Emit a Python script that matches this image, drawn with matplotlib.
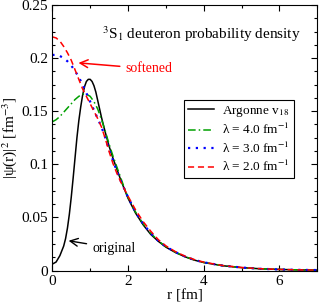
import matplotlib
matplotlib.use("Agg")
import matplotlib.pyplot as plt
from matplotlib.ticker import MultipleLocator

plt.rcParams['font.family'] = ['Liberation Serif', 'DejaVu Serif']
plt.rcParams['mathtext.fontset'] = 'stix'

# Argonne v18 (finer sampling near the peak)
r_av = [0.0, 0.1, 0.2, 0.3, 0.35, 0.4, 0.45, 0.5, 0.55, 0.6, 0.65, 0.7, 0.75,
        0.8, 0.85, 0.9, 0.95, 1.0, 1.05, 1.1, 1.15, 1.2, 1.25, 1.3, 1.35, 1.4,
        1.5, 1.6, 1.7, 1.8, 1.9, 2.0, 2.2, 2.4, 2.6, 2.8, 3.0, 3.25, 3.5, 3.75,
        4.0, 4.5, 5.0, 5.5, 6.0, 6.5, 7.0]
av18 = [0.006, 0.008, 0.014, 0.023, 0.030, 0.040, 0.053, 0.069, 0.087, 0.106,
        0.125, 0.141, 0.154, 0.165, 0.173, 0.178, 0.180, 0.180, 0.178, 0.174,
        0.168, 0.160, 0.152, 0.144, 0.137, 0.130, 0.117, 0.106, 0.096, 0.086,
        0.077, 0.068, 0.054, 0.043, 0.034, 0.0275, 0.022, 0.017, 0.013, 0.0098,
        0.0075, 0.0045, 0.0027, 0.0016, 0.0010, 0.0006, 0.0004]

# SRG-evolved wave functions
r = [0.0, 0.1, 0.2, 0.3, 0.4, 0.5, 0.6, 0.7, 0.8, 0.9, 1.0, 1.1, 1.2, 1.3, 1.4,
     1.5, 1.6, 1.7, 1.8, 1.9, 2.0, 2.2, 2.4, 2.6, 2.8, 3.0, 3.25, 3.5, 3.75,
     4.0, 4.5, 5.0, 5.5, 6.0, 6.5, 7.0]

lam4 = [0.140, 0.142, 0.145, 0.149, 0.153, 0.157, 0.161, 0.164, 0.166, 0.166,
        0.164, 0.159, 0.152, 0.142, 0.131, 0.119, 0.108, 0.098, 0.088, 0.078,
        0.069, 0.055, 0.044, 0.035, 0.028, 0.0224, 0.0173, 0.0132, 0.0100,
        0.0076, 0.0046, 0.0027, 0.0016, 0.0010, 0.0006, 0.0004]

lam3 = [0.203, 0.203, 0.202, 0.200, 0.197, 0.193, 0.188, 0.182, 0.175, 0.167,
        0.159, 0.151, 0.143, 0.135, 0.125, 0.114, 0.104, 0.094, 0.085, 0.077,
        0.069, 0.055, 0.044, 0.035, 0.028, 0.0225, 0.0174, 0.0133, 0.0100,
        0.0077, 0.0046, 0.0028, 0.0016, 0.0010, 0.0006, 0.0004]

lam2 = [0.220, 0.219, 0.216, 0.211, 0.205, 0.198, 0.189, 0.180, 0.171, 0.164,
        0.157, 0.150, 0.143, 0.135, 0.124, 0.112, 0.101, 0.092, 0.084, 0.077,
        0.070, 0.057, 0.046, 0.037, 0.029, 0.0232, 0.0178, 0.0136, 0.0103,
        0.0079, 0.0047, 0.0028, 0.0017, 0.0010, 0.0006, 0.0004]

labels = ['Argonne v$_{18}$', 'λ = 4.0 fm$^{-1}$', 'λ = 3.0 fm$^{-1}$', 'λ = 2.0 fm$^{-1}$']

fig = plt.figure(figsize=(3.19, 3.02), dpi=100)
ax = fig.add_axes([0.164, 0.1043, 0.8307, 0.8791])

ax.plot(r_av, av18, color='black', lw=1.1, label=labels[0])
ax.plot(r, lam4, color='#00a000', lw=1.1, ls=(0, (5, 2, 1, 2)), label=labels[1])
ax.plot(r, lam3, color='blue', lw=1.6, ls=(0, (1, 2.5)), label=labels[2])
ax.plot(r, lam2, color='red', lw=1.1, ls=(0, (4, 2.5)), label=labels[3])

ax.set_xlim(0, 7)
ax.set_ylim(0, 0.25)
ax.xaxis.set_major_locator(MultipleLocator(2))
ax.xaxis.set_minor_locator(MultipleLocator(1))
ax.yaxis.set_minor_locator(MultipleLocator(0.0125))
ax.set_yticks([0, 0.05, 0.1, 0.15, 0.2, 0.25])
ax.set_yticklabels(['0', '0.05', '0.1', '0.15', '0.2', '0.25'])
ax.tick_params(which='both', direction='in', top=True, right=True, labelsize=11, pad=3)
ax.tick_params(which='major', length=4, width=0.8)
ax.tick_params(which='minor', length=2, width=0.8)

ax.set_xlabel('r [fm]', fontsize=11, labelpad=1)
ax.set_ylabel('|ψ(r)|$^2$ [fm$^{-3}$]', fontsize=11, labelpad=2)

ax.text(1.3, 0.218, '$^3$S$_1$ deuteron probability density', fontsize=11)

ax.annotate('softened', xy=(0.69, 0.1955), xytext=(1.93, 0.19), color='red',
            fontsize=10, va='center',
            arrowprops=dict(arrowstyle='->', color='red', lw=1.1, shrinkA=2, shrinkB=0,
                            mutation_scale=14))
ax.annotate('original', xy=(0.43, 0.028), xytext=(1.05, 0.021), color='black',
            fontsize=10, va='center',
            arrowprops=dict(arrowstyle='->', color='black', lw=1.0, shrinkA=2, shrinkB=0,
                            mutation_scale=14))

leg = ax.legend(loc='upper left', bbox_to_anchor=(0.497, 0.642), fontsize=9.5,
                frameon=True, fancybox=False, edgecolor='black', framealpha=1,
                handlelength=2.0, borderpad=0.3, labelspacing=0.25, handletextpad=0.6,
                borderaxespad=0)
leg.get_frame().set_linewidth(0.8)

fig.savefig('out.png', dpi=100)
